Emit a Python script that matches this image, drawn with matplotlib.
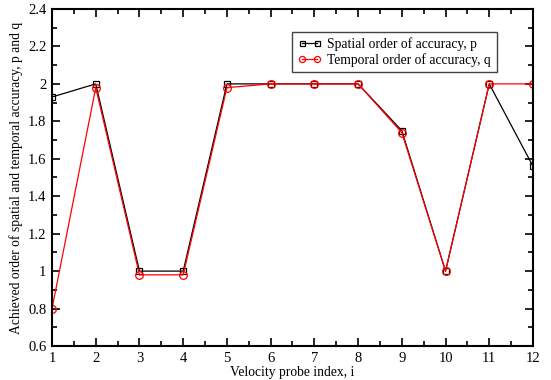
import matplotlib
matplotlib.use("Agg")
import matplotlib.pyplot as plt
from matplotlib.ticker import MultipleLocator

# Order of accuracy at each velocity probe
probe_index = [1, 2, 3, 4, 5, 6, 7, 8, 9, 10, 11, 12]
spatial_p   = [1.93, 2.00, 1.00, 1.00, 2.00, 2.00, 2.00, 2.00, 1.75, 1.00, 2.00, 1.56]
temporal_q  = [0.80, 1.98, 0.98, 0.98, 1.98, 2.00, 2.00, 2.00, 1.74, 1.00, 2.00, 2.00]

plt.rcParams["font.family"] = ["Liberation Serif", "DejaVu Serif"]

fig = plt.figure(figsize=(5.51, 3.80), dpi=100)
ax = fig.add_axes([0.0944, 0.0895, 0.8729, 0.8868])

ax.plot(probe_index, spatial_p, color="black", lw=0.9, marker="s", ms=4.5,
        mfc="none", mec="black", mew=0.9, label="Spatial order of accuracy, p")
ax.plot(probe_index, temporal_q, color="red", lw=0.9, marker="o", ms=5.5,
        mfc="none", mec="red", mew=0.9, label="Temporal order of accuracy, q")

ax.set_xlim(1, 12)
ax.set_ylim(0.6, 2.4)
ax.xaxis.set_major_locator(MultipleLocator(1))
ax.xaxis.set_minor_locator(MultipleLocator(0.5))
ax.yaxis.set_major_locator(MultipleLocator(0.2))
ax.yaxis.set_minor_locator(MultipleLocator(0.1))
ax.yaxis.set_major_formatter(plt.FuncFormatter(lambda v, _: f"{v:g}"))

for s in ax.spines.values():
    s.set_linewidth(1.5)
ax.tick_params(which="both", direction="in", top=True, right=True,
               labelsize=10.5, width=1.2)
ax.tick_params(which="major", length=6, pad=4)
ax.tick_params(which="minor", length=3.5)

ax.set_xlabel("Velocity probe index, i", fontsize=9.8, labelpad=1)
ax.set_ylabel("Achieved order of spatial and temporal accuracy, p and q",
              fontsize=9.8, labelpad=4)

leg = ax.legend(loc="upper left", bbox_to_anchor=(0.499, 0.932), fontsize=9.8,
                numpoints=2, handlelength=1.7, handletextpad=0.5,
                borderpad=0.4, labelspacing=0.15, fancybox=False,
                framealpha=1, borderaxespad=0, markerscale=0.8)
leg.get_frame().set_edgecolor("#444444")
leg.get_frame().set_linewidth(1.0)

fig.savefig("out.png", dpi=100)
